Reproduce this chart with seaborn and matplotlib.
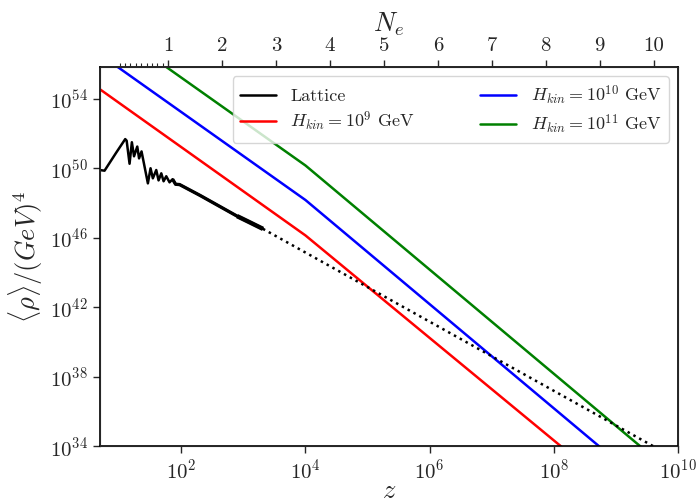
import numpy as np
import pandas as pd
import matplotlib
matplotlib.use("Agg")
import matplotlib.pyplot as plt
from matplotlib.ticker import NullFormatter
import seaborn as sns

# values, as log10(z) and log10(rho)
lattice_lz = [0.685, 0.764, 0.95, 1.097, 1.12, 1.167, 1.204, 1.239, 1.291, 1.320, 1.360,
              1.462, 1.505, 1.542, 1.597, 1.634, 1.678, 1.715, 1.758, 1.811, 1.860,
              1.908, 1.973, 2.3, 2.6, 2.9, 3.1, 3.315]
lattice_lr = [49.91, 49.87, 50.9, 51.69, 51.6, 50.27, 51.51, 50.70, 51.26, 50.58, 50.98,
              49.14, 50.01, 49.43, 49.91, 49.31, 49.72, 49.26, 49.55, 49.20, 49.38,
              49.09, 49.07, 48.45, 47.85, 47.25, 46.9, 46.52]

extrap_lz = [3.315, 9.65]
extrap_lr = [46.52, 33.9]

hkin_labels = [r"$H_{kin}=10^{9}$ GeV", r"$H_{kin}=10^{10}$ GeV", r"$H_{kin}=10^{11}$ GeV"]
hkin_colors = ["red", "blue", "green"]
hkin_lz = [[0.69, 4.0, 8.2], [0.69, 4.0, 8.9], [0.69, 4.0, 9.6]]
hkin_lr = [[54.56, 46.14, 33.74], [56.57, 48.18, 33.48], [58.55, 50.17, 33.37]]

ne_ticks = [1, 2, 3, 4, 5, 6, 7, 8, 9, 10]

sns.set_style("ticks")
plt.rcParams["font.family"] = "serif"
plt.rcParams["font.serif"] = ["cmr10", "DejaVu Serif"]
plt.rcParams["mathtext.fontset"] = "cm"
plt.rcParams["axes.formatter.use_mathtext"] = True

fig = plt.figure(figsize=(6.99, 5.03), dpi=100)
ax = fig.add_axes([0.143, 0.113, 0.827, 0.754])

lat = pd.DataFrame({"z": 10 ** np.array(lattice_lz), "rho": 10 ** np.array(lattice_lr)})
sns.lineplot(data=lat, x="z", y="rho", color="black", lw=1.8, sort=False, ax=ax, label="Lattice")
# the fast small wiggles of the late lattice data show up as a thicker band
mid = lat[(lat["z"] > 10 ** 1.85)]
ax.plot(mid["z"], mid["rho"], color="black", lw=2.4, solid_capstyle="butt")
tail = lat[lat["z"] > 10 ** 2.6]
ax.plot(tail["z"], tail["rho"], color="black", lw=3.2, solid_capstyle="butt")

for lab, col, lz, lr in zip(hkin_labels, hkin_colors, hkin_lz, hkin_lr):
    sns.lineplot(x=10 ** np.array(lz), y=10 ** np.array(lr), color=col, lw=1.8,
                 ax=ax, label=lab)

ax.plot(10 ** np.array(extrap_lz), 10 ** np.array(extrap_lr), color="black", lw=1.8, ls=":")

ax.set_xscale("log")
ax.set_yscale("log")
ax.set_xlim(4.9, 1e10)
ax.set_ylim(1e34, 10 ** 55.85)
ax.set_xticks([1e2, 1e4, 1e6, 1e8, 1e10])
ax.set_yticks([1e34, 1e38, 1e42, 1e46, 1e50, 1e54])
ax.minorticks_off()
ax.tick_params(labelsize=15, length=5, width=1, direction="out")
ax.set_xlabel(r"$z$", fontsize=19, labelpad=-2)
ax.set_ylabel(r"$\langle\rho\rangle/(GeV)^4$", fontsize=19)
for s in ax.spines.values():
    s.set_linewidth(1.2)
    s.set_color("black")

# top axis in e-folds
def ne_to_z(n):
    return np.exp(2 * (np.asarray(n) + 1.06))

top = ax.twiny()
top.set_xscale("log")
top.set_xlim(ax.get_xlim())
top.set_xticks(ne_to_z(ne_ticks))
top.set_xticklabels([str(n) for n in ne_ticks])
top.set_xticks(ne_to_z(np.arange(0.1, 1.0, 0.1)), minor=True)
top.xaxis.set_minor_formatter(NullFormatter())
top.tick_params(which="major", labelsize=15, length=5, width=1)
top.tick_params(which="minor", length=3, width=0.8)
top.set_xlabel(r"$N_e$", fontsize=19)

ax.legend(loc="upper right", ncol=2, fontsize=13, handlelength=2.0, columnspacing=3.6,
          labelspacing=0.3, framealpha=0.8, fancybox=True)

fig.savefig("out.png", dpi=100)
